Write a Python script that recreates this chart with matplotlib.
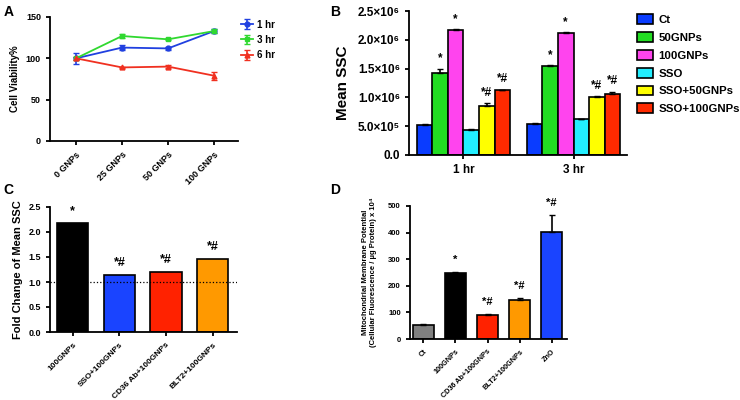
import numpy as np
import matplotlib.pyplot as plt
from matplotlib.ticker import FuncFormatter

plt.rcParams['font.family'] = ['Liberation Sans', 'DejaVu Sans']
plt.rcParams['font.weight'] = 'bold'
plt.rcParams['axes.linewidth'] = 1.3
plt.rcParams['xtick.major.width'] = 1.3
plt.rcParams['ytick.major.width'] = 1.3

# === DATA ===
# panel A
doses = ["0 GNPs", "25 GNPs", "50 GNPs", "100 GNPs"]
via_1hr = [100, 113, 112, 133]
via_1hr_err = [7, 3, 2, 2]
via_3hr = [100, 127, 123, 133]
via_3hr_err = [2, 2, 1, 2]
via_6hr = [100, 89, 90, 79]
via_6hr_err = [2, 1, 2, 5]

# panel B
times = ["1 hr", "3 hr"]
ssc_groups = ["Ct", "50GNPs", "100GNPs", "SSO", "SSO+50GNPs", "SSO+100GNPs"]
ssc_1hr = [0.52e6, 1.43e6, 2.17e6, 0.44e6, 0.85e6, 1.12e6]
ssc_1hr_err = [0.01e6, 0.07e6, 0.01e6, 0.005e6, 0.05e6, 0.015e6]
ssc_3hr = [0.54e6, 1.54e6, 2.12e6, 0.62e6, 1.0e6, 1.06e6]
ssc_3hr_err = [0.01e6, 0.015e6, 0.015e6, 0.005e6, 0.025e6, 0.04e6]
ssc_marks = ["", "*", "*", "", "*#", "*#"]

# panel C
fold_groups = ["100GNPs", "SSO+100GNPs", "CD36 Ab+100GNPs", "BLT2+100GNPs"]
fold_vals = [2.18, 1.15, 1.20, 1.46]
fold_marks = ["*", "*#", "*#", "*#"]

# panel D
mmp_groups = ["Ct", "100GNPs", "CD36 Ab+100GNPs", "BLT2+100GNPs", "ZnO"]
mmp_vals = [52, 250, 90, 148, 402]
mmp_err = [4, 2, 3, 8, 65]
mmp_marks = ["", "*", "*#", "*#", "*#"]

fig = plt.figure(figsize=(7.4, 4), dpi=100)


def style(ax):
    ax.spines['top'].set_visible(False)
    ax.spines['right'].set_visible(False)


# --- A ---
axA = fig.add_axes([50/740, 1-141/400, 188/740, 124/400])
x = np.arange(len(doses))
for vals, err, col, mk, lab in [(via_1hr, via_1hr_err, '#2040e0', 'o', '1 hr'),
                                (via_3hr, via_3hr_err, '#30d830', 's', '3 hr'),
                                (via_6hr, via_6hr_err, '#f03020', '^', '6 hr')]:
    axA.errorbar(x, vals, yerr=err, color=col, marker=mk, ms=3.5, lw=1.3,
                 capsize=2.5, elinewidth=1.2, label=lab)
axA.set_xlim(-0.565, 3.52)
axA.set_ylim(0, 150)
axA.set_yticks([0, 50, 100, 150])
axA.set_xticks(x)
axA.set_xticklabels(doses, rotation=45, ha='right', rotation_mode='anchor')
axA.tick_params(labelsize=6.5, length=3)
axA.set_ylabel("Cell Viability%", fontsize=7, fontweight='bold')
axA.legend(loc='upper left', bbox_to_anchor=(0.97, 1.05), frameon=False,
           fontsize=7, handlelength=1.2, handletextpad=0.4, labelspacing=0.55)
style(axA)

# --- B ---
axB = fig.add_axes([409/740, 1-155/400, 218/740, 144/400])
colsB = ['#0a3cff', '#22dd22', '#ff44ee', '#22eeff', '#ffff00', '#ff2a00']
w = 0.141
xt = np.arange(len(times))
for i, g in enumerate(ssc_groups):
    pos = xt + (i - 2.5) * w
    vals = [ssc_1hr[i], ssc_3hr[i]]
    errs = [ssc_1hr_err[i], ssc_3hr_err[i]]
    axB.bar(pos, vals, width=w, color=colsB[i], edgecolor='black', lw=1.2, label=g)
    axB.errorbar(pos, vals, yerr=[[0, 0], errs], fmt='none', ecolor='black',
                 elinewidth=1.2, capsize=2.5)
    if ssc_marks[i]:
        for p, v, e in zip(pos, vals, errs):
            axB.annotate(ssc_marks[i], (p, v + e), xytext=(0, 3),
                         textcoords='offset points', ha='center', va='bottom',
                         fontsize=8.5, fontweight='bold')
axB.set_xlim(-0.495, 1.486)
axB.set_ylim(0, 2.5e6)
axB.set_yticks(np.arange(0, 2.51e6, 0.5e6))
sup = {5: '\u2075', 6: '\u2076'}


def fmtB(v, pos):
    if v == 0:
        return "0.0"
    e = int(np.floor(np.log10(v)))
    return "%.1f\u00d710%s" % (v / 10**e, sup[e])


axB.yaxis.set_major_formatter(FuncFormatter(fmtB))
axB.set_xticks(xt)
axB.set_xticklabels(times)
axB.tick_params(labelsize=8.5, length=3)
axB.set_ylabel("Mean SSC", fontsize=11, fontweight='bold', labelpad=6)
axB.legend(loc='upper left', bbox_to_anchor=(1.0, 1.05), frameon=False,
           fontsize=8.2, handlelength=1.35, handleheight=0.95, handletextpad=0.5,
           labelspacing=0.62)
style(axB)

# --- C ---
axC = fig.add_axes([50/740, 1-332/400, 187/740, 125/400])
colsC = ['#000000', '#1a44ff', '#ff2200', '#ff9900']
xc = np.arange(len(fold_groups))
axC.bar(xc, fold_vals, width=0.67, color=colsC, edgecolor='black', lw=1.2)
for xi, v, m in zip(xc, fold_vals, fold_marks):
    axC.annotate(m, (xi, v), xytext=(0, 4), textcoords='offset points',
                 ha='center', va='bottom', fontsize=9, fontweight='bold')
axC.axhline(1.0, color='black', ls=':', lw=0.9)
axC.set_xlim(-0.49, 3.52)
axC.set_ylim(0, 2.5)
axC.set_yticks(np.arange(0, 2.51, 0.5))
axC.yaxis.set_major_formatter(FuncFormatter(lambda v, p: "%.1f" % v))
axC.set_xticks(xc)
axC.set_xticklabels(fold_groups, rotation=45, ha='right', rotation_mode='anchor')
axC.tick_params(axis='y', labelsize=6.5, length=3)
axC.tick_params(axis='x', labelsize=6, length=3)
axC.set_ylabel("Fold Change of Mean SSC", fontsize=8, fontweight='bold')
style(axC)

# --- D ---
axD = fig.add_axes([410/740, 1-339/400, 157/740, 133/400])
colsD = ['#808080', '#000000', '#ff2200', '#ff9900', '#1a44ff']
xd = np.arange(len(mmp_groups))
axD.bar(xd, mmp_vals, width=0.66, color=colsD, edgecolor='black', lw=1.2)
axD.errorbar(xd, mmp_vals, yerr=[[0] * len(xd), mmp_err], fmt='none', ecolor='black',
             elinewidth=1.2, capsize=2.5)
for xi, v, e, m in zip(xd, mmp_vals, mmp_err, mmp_marks):
    if m:
        axD.annotate(m, (xi, v + e), xytext=(0, 5), textcoords='offset points',
                     ha='center', va='bottom', fontsize=8, fontweight='bold')
axD.set_xlim(-0.42, 4.48)
axD.set_ylim(0, 500)
axD.set_yticks(np.arange(0, 501, 100))
axD.set_xticks(xd)
axD.set_xticklabels(mmp_groups, rotation=45, ha='right', rotation_mode='anchor')
axD.tick_params(axis='y', labelsize=5.5, length=3)
axD.tick_params(axis='x', labelsize=5.2, length=3)
axD.set_ylabel("Mitochondrial Membrane Potential\n(Cellular Fluorescence / \u00b5g Protein) x 10\u2074",
               fontsize=5.5, fontweight='bold', labelpad=8)
style(axD)

# panel letters
for lx, ly, t in [(0.005, 0.97, 'A'), (0.446, 0.97, 'B'), (0.005, 0.525, 'C'), (0.446, 0.525, 'D')]:
    fig.text(lx, ly, t, fontsize=10, fontweight='bold', va='center', ha='left')

fig.savefig("out.png", dpi=100)
